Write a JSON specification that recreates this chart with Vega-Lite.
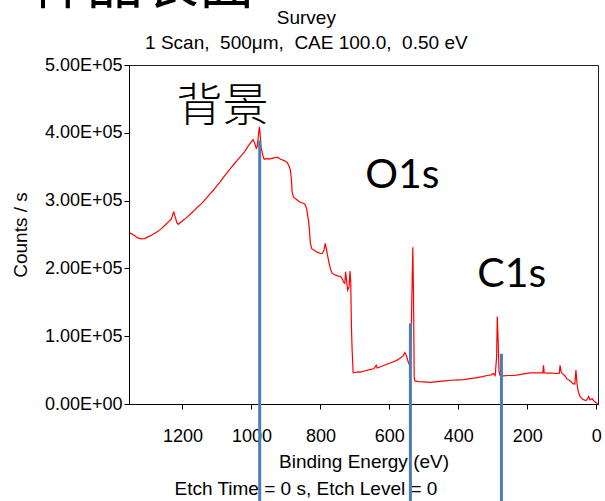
{
 "$schema": "https://vega.github.io/schema/vega-lite/v6.json",
 "width": 469, "height": 339,
 "autosize": {"type": "none"},
 "padding": {"left": 129, "top": 65, "right": 7, "bottom": 97},
 "background": "white",
 "config": {"view": {"stroke": "#222", "strokeWidth": 1}, "font": "Liberation Sans"},
 "title": {"text": ["Survey", "1 Scan,\u00a0 500μm,\u00a0 CAE 100.0,\u00a0 0.50 eV"], "fontSize": 19, "fontWeight": "normal", "font": "Liberation Sans", "lineHeight": 25, "offset": 12, "dy": 107, "anchor": "middle", "frame": "bounds", "color": "black"},
 "datasets": {
  "spectrum": [
   {"be":1352,"cps":252000},{"be":1340,"cps":249000},{"be":1330,"cps":245000},{"be":1320,"cps":243500},{"be":1310,"cps":244000},{"be":1300,"cps":246500},{"be":1290,"cps":249000},{"be":1280,"cps":252000},{"be":1270,"cps":255000},{"be":1260,"cps":259000},{"be":1250,"cps":264000},{"be":1240,"cps":269000},{"be":1232,"cps":273000},{"be":1228,"cps":280000},{"be":1225,"cps":283000},{"be":1221,"cps":276000},{"be":1216,"cps":267000},{"be":1212,"cps":265000},{"be":1205,"cps":268000},{"be":1195,"cps":272000},{"be":1186,"cps":276000},{"be":1175,"cps":281000},{"be":1165,"cps":286000},{"be":1155,"cps":291000},{"be":1148,"cps":294000},{"be":1140,"cps":298000},{"be":1130,"cps":304000},{"be":1120,"cps":310000},{"be":1109,"cps":316000},{"be":1100,"cps":322000},{"be":1090,"cps":328000},{"be":1080,"cps":335000},{"be":1071,"cps":341000},{"be":1060,"cps":348000},{"be":1050,"cps":354000},{"be":1040,"cps":360000},{"be":1032,"cps":365000},{"be":1020,"cps":372000},{"be":1010,"cps":380000},{"be":1000,"cps":387000},{"be":995,"cps":390000},{"be":990,"cps":384000},{"be":986,"cps":377000},{"be":983,"cps":380000},{"be":980,"cps":395000},{"be":977,"cps":409000},{"be":975,"cps":400000},{"be":972,"cps":378000},{"be":969,"cps":372000},{"be":966,"cps":365000},{"be":963,"cps":361000},{"be":955,"cps":362000},{"be":945,"cps":361500},{"be":935,"cps":363000},{"be":925,"cps":364000},{"be":915,"cps":361000},{"be":905,"cps":359000},{"be":896,"cps":356000},{"be":890,"cps":350000},{"be":887,"cps":345000},{"be":884,"cps":330000},{"be":882,"cps":313000},{"be":878,"cps":305000},{"be":870,"cps":302000},{"be":860,"cps":298000},{"be":850,"cps":296000},{"be":845,"cps":295000},{"be":840,"cps":288000},{"be":835,"cps":272000},{"be":832,"cps":258000},{"be":829,"cps":237000},{"be":825,"cps":229000},{"be":819,"cps":227000},{"be":810,"cps":224000},{"be":800,"cps":222000},{"be":795,"cps":222000},{"be":790,"cps":226000},{"be":786,"cps":237000},{"be":783,"cps":230000},{"be":780,"cps":221000},{"be":775,"cps":208000},{"be":770,"cps":198000},{"be":766,"cps":193000},{"be":760,"cps":191000},{"be":750,"cps":189000},{"be":742,"cps":188000},{"be":737,"cps":185000},{"be":733,"cps":180000},{"be":729,"cps":178000},{"be":727,"cps":195000},{"be":724,"cps":182000},{"be":721,"cps":168000},{"be":717,"cps":172000},{"be":714,"cps":196000},{"be":712,"cps":180000},{"be":710,"cps":114000},{"be":708,"cps":80000},{"be":705,"cps":46000},{"be":700,"cps":46500},{"be":690,"cps":47500},{"be":684,"cps":47000},{"be":670,"cps":49000},{"be":655,"cps":51000},{"be":645,"cps":52000},{"be":638,"cps":57000},{"be":635,"cps":53000},{"be":620,"cps":56000},{"be":605,"cps":59000},{"be":590,"cps":62000},{"be":580,"cps":64000},{"be":570,"cps":67000},{"be":560,"cps":71000},{"be":555,"cps":76000},{"be":551,"cps":72000},{"be":546,"cps":63000},{"be":542,"cps":58000},{"be":538,"cps":68000},{"be":535,"cps":150000},{"be":532,"cps":231000},{"be":530,"cps":160000},{"be":528,"cps":40000},{"be":526,"cps":34000},{"be":515,"cps":33000},{"be":500,"cps":32500},{"be":481,"cps":32000},{"be":460,"cps":33000},{"be":440,"cps":34000},{"be":420,"cps":35000},{"be":400,"cps":35500},{"be":385,"cps":36000},{"be":370,"cps":37000},{"be":350,"cps":38500},{"be":330,"cps":40500},{"be":317,"cps":42000},{"be":305,"cps":43000},{"be":298,"cps":45000},{"be":293,"cps":42000},{"be":289,"cps":70000},{"be":287,"cps":129000},{"be":285,"cps":100000},{"be":282,"cps":48000},{"be":279,"cps":42000},{"be":270,"cps":41500},{"be":255,"cps":42000},{"be":240,"cps":42000},{"be":225,"cps":43000},{"be":210,"cps":44500},{"be":191,"cps":46000},{"be":175,"cps":46000},{"be":160,"cps":46000},{"be":155,"cps":46000},{"be":153,"cps":57000},{"be":151,"cps":46000},{"be":145,"cps":45500},{"be":130,"cps":45500},{"be":115,"cps":45000},{"be":107,"cps":45500},{"be":105,"cps":57000},{"be":102,"cps":48000},{"be":99,"cps":45000},{"be":92,"cps":42000},{"be":85,"cps":37000},{"be":75,"cps":34000},{"be":68,"cps":30000},{"be":62,"cps":29500},{"be":59,"cps":50000},{"be":56,"cps":31000},{"be":53,"cps":20000},{"be":48,"cps":12000},{"be":40,"cps":7000},{"be":30,"cps":5000},{"be":26,"cps":7000},{"be":22,"cps":11000},{"be":18,"cps":6000},{"be":12,"cps":8000},{"be":6,"cps":4000},{"be":0,"cps":2000},{"be":-4,"cps":0}
  ],
  "markers": [
   {"be":976,"top":389000,"bottom":-160000},
   {"be":539,"top":119000,"bottom":-160000},
   {"be":275,"top":74000,"bottom":-160000}
  ],
  "peaks": [
   {"be":670,"cps":318800,"text":"O1s"},
   {"be":345,"cps":171900,"text":"C1s"}
  ],
  "bg": [{"be":1217,"cps":417900,"text":"背景"}],
  "head": [{"be":1640,"cps":591400,"text":"样品表面"}]
 },
 "layer": [
  {
   "data": {"name": "spectrum"},
   "mark": {"type": "line", "color": "#ff0000", "strokeWidth": 1.2},
   "encoding": {
    "x": {"field": "be", "type": "quantitative",
     "scale": {"domain": [-5, 1355], "reverse": true, "nice": false, "zero": false},
     "axis": {"title": ["Binding Energy (eV)", "Etch Time = 0 s, Etch Level = 0\u00a0\u00a0\u00a0\u00a0\u00a0\u00a0\u00a0\u00a0\u00a0\u00a0\u00a0\u00a0\u00a0\u00a0\u00a0\u00a0\u00a0\u00a0\u00a0\u00a0\u00a0\u00a0\u200b"],
      "values": [0,100,200,300,400,500,600,700,800,900,1000,1100,1200,1300],
      "format": "d", "labelExpr": "datum.value % 200 === 0 ? datum.label : ''",
      "labelOverlap": false, "labelFlush": false, "tickSize": 5, "labelPadding": 18,
      "labelFontSize": 18, "titleFontSize": 19, "titleFontWeight": "normal", "titleLineHeight": 27,
      "titlePadding": 7, "domainColor": "black", "tickColor": "black", "labelColor": "black", "titleColor": "black",
      "grid": false, "labelFont": "Liberation Sans", "titleFont": "Liberation Sans"}},
    "y": {"field": "cps", "type": "quantitative",
     "scale": {"domain": [0, 500000], "nice": false, "zero": true},
     "axis": {"title": "Counts / s",
      "values": [0,50000,100000,150000,200000,250000,300000,350000,400000,450000,500000],
      "labelExpr": "datum.value === 0 ? '0.00E+00' : (datum.value % 100000 === 0 ? format(datum.value / 100000, '.2f') + 'E+05' : '')",
      "labelOverlap": false, "labelFlush": false, "tickSize": 5, "labelPadding": 2,
      "labelFontSize": 18, "titleFontSize": 19, "titleFontWeight": "normal",
      "titlePadding": 14, "domainColor": "black", "tickColor": "black", "labelColor": "black", "titleColor": "black",
      "grid": false, "labelFont": "Liberation Sans", "titleFont": "Liberation Sans"}}
   }
  },
  {
   "data": {"name": "markers"},
   "mark": {"type": "rule", "color": "#4A7EBB", "strokeWidth": 3},
   "encoding": {
    "x": {"field": "be", "type": "quantitative"},
    "y": {"field": "top", "type": "quantitative"},
    "y2": {"field": "bottom"}
   }
  },
  {
   "data": {"name": "peaks"},
   "mark": {"type": "text", "font": "Lato", "fontSize": 41, "align": "left", "baseline": "alphabetic", "color": "black"},
   "encoding": {
    "x": {"field": "be", "type": "quantitative"},
    "y": {"field": "cps", "type": "quantitative"},
    "text": {"field": "text"}
   }
  },
  {
   "data": {"name": "bg"},
   "mark": {"type": "text", "font": "Noto Sans CJK SC", "fontSize": 46, "fontWeight": 300, "align": "left", "baseline": "alphabetic", "color": "black"},
   "encoding": {
    "x": {"field": "be", "type": "quantitative"},
    "y": {"field": "cps", "type": "quantitative"},
    "text": {"field": "text"}
   }
  },
  {
   "data": {"name": "head"},
   "mark": {"type": "text", "font": "Noto Sans CJK SC", "fontSize": 56, "align": "left", "baseline": "alphabetic", "color": "black"},
   "encoding": {
    "x": {"field": "be", "type": "quantitative"},
    "y": {"field": "cps", "type": "quantitative"},
    "text": {"field": "text"}
   }
  }
 ]
}
